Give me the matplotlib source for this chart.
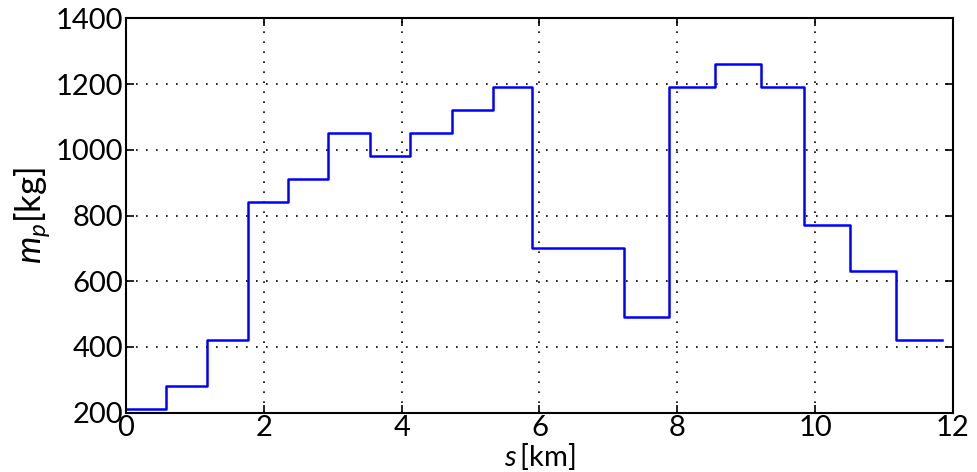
import matplotlib
matplotlib.use("Agg")
from matplotlib import pyplot as plt

plt.rcParams['font.family'] = ['Lato', 'DejaVu Sans']
plt.rcParams['mathtext.fontset'] = 'custom'
plt.rcParams['mathtext.it'] = 'Lato:italic'
plt.rcParams['mathtext.rm'] = 'Lato'

# segment edges along the route [km] and propellant mass per segment [kg]
s_edges = [0, 0.58, 1.17, 1.77, 2.35, 2.93, 3.54, 4.12, 4.73, 5.32, 5.89,
           7.22, 7.88, 8.55, 9.22, 9.84, 10.51, 11.17, 11.84]
m_p = [210, 280, 420, 840, 910, 1050, 980, 1050, 1120, 1190,
       700, 490, 1190, 1260, 1190, 770, 630, 420]

fig = plt.figure(figsize=(9.77, 4.72), dpi=100)
ax = fig.add_axes([0.129, 0.1256, 0.8464, 0.8356])

ax.step(s_edges, m_p + [m_p[-1]], where='post', color='#0000ff', lw=1.8)

ax.set_xlim(0, 12)
ax.set_ylim(200, 1400)
ax.set_xticks(range(0, 13, 2))
ax.set_yticks(range(200, 1401, 200))
ax.grid(True, color='black', linestyle=(0, (1, 5)), linewidth=1.2)

ax.tick_params(direction='in', length=6, width=1.2, top=True, right=True,
               labelsize=21, pad=2)
for sp in ax.spines.values():
    sp.set_linewidth(1.5)

ax.set_xlabel(r'$s\,$[km]', fontsize=21, labelpad=0)
ax.set_ylabel(r'$m_p$[kg]', fontsize=25, labelpad=2)

fig.savefig("out.png", dpi=100)
